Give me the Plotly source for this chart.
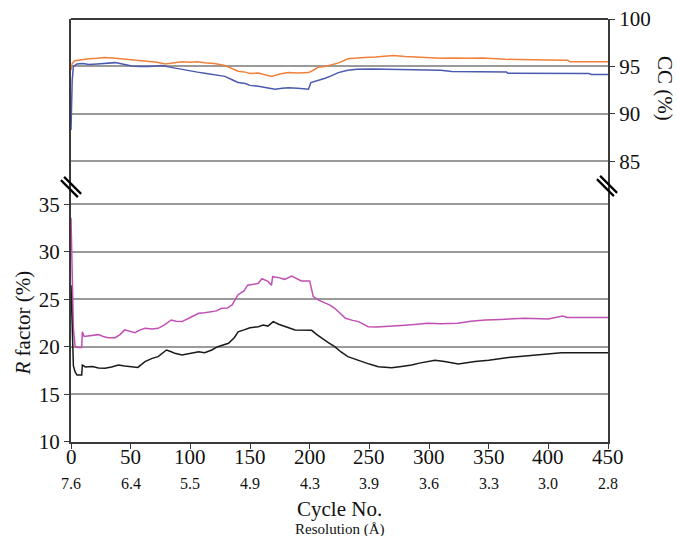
import plotly.graph_objects as go

# ---------------- data ----------------
cycle_ticks = [0, 50, 100, 150, 200, 250, 300, 350, 400, 450]
resolution_labels = ["7.6", "6.4", "5.5", "4.9", "4.3", "3.9", "3.6", "3.3", "3.0", "2.8"]
r_ticks = [10, 15, 20, 25, 30, 35]
cc_ticks = [85, 90, 95, 100]

cc_orange_x = [0, 1, 3, 8, 15, 22, 28, 35, 42, 51, 58, 65, 72, 79, 86, 93, 100, 106, 112, 120,
               129, 135, 140, 146, 150, 157, 163, 168, 175, 182, 190, 199, 203, 207, 213, 218,
               225, 232, 240, 246, 255, 263, 270, 280, 287, 294, 300, 310, 320, 333, 345, 355,
               364, 375, 386, 400, 416, 418, 450]
cc_orange = [94.6, 95.3, 95.6, 95.7, 95.8, 95.85, 95.95, 95.9, 95.8, 95.75, 95.65, 95.55, 95.45,
             95.25, 95.4, 95.5, 95.45, 95.5, 95.4, 95.3, 95.1, 94.8, 94.5, 94.4, 94.25, 94.3,
             94.15, 93.95, 94.2, 94.35, 94.3, 94.35, 94.6, 94.9, 95.0, 95.15, 95.4, 95.8, 95.9,
             95.95, 96.0, 96.1, 96.15, 96.05, 96.0, 95.9, 95.85, 95.85, 95.9, 95.85, 95.9, 95.8,
             95.75, 95.72, 95.68, 95.68, 95.66, 95.5, 95.5]

cc_blue_x = [0, 1, 2, 5, 10, 15, 22, 30, 37, 45, 51, 58, 65, 72, 76, 84, 92, 101, 106, 112, 120,
             129, 135, 140, 146, 150, 157, 163, 171, 177, 182, 190, 199, 201, 207, 213, 218, 224,
             232, 240, 252, 262, 271, 285, 299, 310, 319, 340, 365, 366, 400, 434, 436, 450]
cc_blue = [88.3, 93.5, 95.0, 95.25, 95.3, 95.2, 95.25, 95.35, 95.4, 95.2, 95.05, 95.0, 94.98,
           95.05, 95.1, 94.9, 94.7, 94.45, 94.4, 94.28, 94.15, 93.95, 93.6, 93.3, 93.2, 93.0,
           92.9, 92.75, 92.6, 92.7, 92.75, 92.7, 92.6, 93.3, 93.5, 93.75, 94.0, 94.35, 94.6,
           94.7, 94.74, 94.72, 94.75, 94.7, 94.65, 94.6, 94.46, 94.45, 94.4, 94.28, 94.28,
           94.25, 94.15, 94.15]

r_free_x = [0, 1, 2, 3.4, 5, 9, 9.5, 11, 16, 23, 27, 31, 37, 41, 45, 50, 53.6, 58, 62, 68, 73,
            78, 84, 88, 93, 100, 107, 112, 118, 122, 126, 131, 135, 140, 145, 148, 153, 157,
            160, 165, 168, 169, 174, 179, 185, 190, 193, 200, 203, 208, 213, 217, 221, 226,
            230, 236, 241, 245, 249, 256, 263, 270, 280, 290, 299, 310, 324, 335, 347, 360,
            380, 400, 412, 416, 450]
r_free = [33.6, 27.0, 22.0, 20.1, 19.95, 19.95, 21.6, 21.1, 21.2, 21.3, 21.1, 20.98, 20.98,
          21.3, 21.8, 21.6, 21.5, 21.8, 21.96, 21.9, 21.96, 22.3, 22.84, 22.7, 22.67, 23.1,
          23.54, 23.6, 23.72, 23.8, 24.07, 24.1, 24.42, 25.5, 25.9, 26.5, 26.6, 26.7, 27.2,
          26.9, 26.5, 27.4, 27.3, 27.12, 27.47, 27.1, 26.95, 26.95, 25.3, 24.9, 24.6, 24.4,
          24.07, 23.5, 23.02, 22.8, 22.67, 22.4, 22.14, 22.1, 22.14, 22.2, 22.3, 22.4, 22.49,
          22.45, 22.49, 22.7, 22.84, 22.9, 23.02, 22.95, 23.26, 23.1, 23.1]

r_work_x = [0, 1, 2, 3.4, 5, 9, 9.5, 12, 18, 23, 28.5, 34, 39.7, 45, 51, 56, 62, 68, 73, 80, 84,
            87, 93, 100, 107, 112, 118, 123, 128, 132, 137, 140, 145, 150, 157, 161, 165,
            169.5, 174, 179, 183, 187.7, 195, 201.7, 206, 210, 215, 221, 226, 232, 238, 243.6,
            250, 257.5, 263, 268.7, 277, 285.5, 292, 299, 305, 313, 324.6, 338.6, 350, 366.5,
            388.8, 408, 411, 450]
r_work = [26.5, 21.0, 18.0, 17.4, 17.05, 17.05, 18.1, 17.9, 17.95, 17.8, 17.76, 17.9, 18.1,
          18.0, 17.93, 17.85, 18.46, 18.8, 18.98, 19.68, 19.5, 19.33, 19.16, 19.3, 19.5, 19.4,
          19.68, 20.03, 20.2, 20.39, 21.0, 21.6, 21.8, 22.03, 22.14, 22.3, 22.2, 22.67, 22.4,
          22.14, 22.0, 21.8, 21.8, 21.75, 21.3, 20.9, 20.5, 20.03, 19.5, 18.98, 18.7, 18.46,
          18.2, 17.93, 17.85, 17.82, 17.95, 18.1, 18.3, 18.46, 18.6, 18.46, 18.2, 18.46, 18.6,
          18.9, 19.16, 19.33, 19.4, 19.4]

# ---------------- figure ----------------
SERIF = "Liberation Serif, Times New Roman, serif"
AXIS_COLOR = "#3a3a3a"
GRID_COLOR = "#9a9a9a"
BREAK = 0.6076
PW, PH = 537.0, 423.0   # plot-area size in px

fig = go.Figure()
fig.add_trace(go.Scatter(x=cc_orange_x, y=cc_orange, yaxis="y2", mode="lines",
                         line=dict(color="#f0803a", width=1.5), name="CC 1"))
fig.add_trace(go.Scatter(x=cc_blue_x, y=cc_blue, yaxis="y2", mode="lines",
                         line=dict(color="#4a5aae", width=1.5), name="CC 2"))
fig.add_trace(go.Scatter(x=r_free_x, y=r_free, yaxis="y", mode="lines",
                         line=dict(color="#c24fb4", width=1.5), name="Rfree"))
fig.add_trace(go.Scatter(x=r_work_x, y=r_work, yaxis="y", mode="lines",
                         line=dict(color="#1a1a1a", width=1.5), name="Rwork"))

fig.update_layout(
    width=677, height=536,
    margin=dict(l=71, r=69, t=19, b=94, autoexpand=False),
    paper_bgcolor="white", plot_bgcolor="white",
    showlegend=False,
    font=dict(family=SERIF, color="#111111"),
    xaxis=dict(range=[0, 450], tickvals=cycle_ticks, ticks="outside", ticklen=5,
               tickcolor=AXIS_COLOR, showline=True, linecolor=AXIS_COLOR, linewidth=2,
               showgrid=False, zeroline=False, showticklabels=False, anchor="y"),
    yaxis=dict(domain=[0, BREAK], range=[10, 37.05], tickvals=r_ticks, ticks="outside",
               ticklen=5, tickcolor=AXIS_COLOR, showline=True, mirror=True,
               linecolor=AXIS_COLOR, linewidth=2, showgrid=True, gridcolor=GRID_COLOR,
               gridwidth=1.5, zeroline=False, tickfont=dict(size=21, family=SERIF),
               anchor="x", automargin=False),
    yaxis2=dict(domain=[BREAK, 1], range=[82.5, 100], tickvals=cc_ticks, ticks="outside",
                ticklen=5, tickcolor=AXIS_COLOR, side="right", showline=True, mirror=True,
                linecolor=AXIS_COLOR, linewidth=2, showgrid=True, gridcolor=GRID_COLOR,
                gridwidth=1.5, zeroline=False, tickfont=dict(size=21, family=SERIF),
                anchor="x", automargin=False),
)

# top border
fig.add_shape(type="line", xref="paper", yref="paper", x0=0, x1=1, y0=1, y1=1,
              line=dict(color=AXIS_COLOR, width=2))

# axis-break marks
def add_break(cx, cy):
    for off in (-1.6, 1.6):
        x0 = cx - 8.5 + off
        x1 = cx + 8.5 + off
        y0 = cy - 8.5 - off
        y1 = cy + 8.5 - off
        fig.add_shape(type="line", xref="paper", yref="paper",
                      x0=(x0 - 71) / PW, x1=(x1 - 71) / PW,
                      y0=(442 - y0) / PH, y1=(442 - y1) / PH,
                      line=dict(color="black", width=2.2))
add_break(71, 187)
add_break(607, 186)

# x tick labels (cycle) and resolution row
for cx, lab in zip(cycle_ticks, resolution_labels):
    fig.add_annotation(x=cx, xref="x", y=(442 - 457) / PH, yref="paper", text=str(cx),
                       showarrow=False, font=dict(size=21, family=SERIF),
                       xanchor="center", yanchor="middle")
    fig.add_annotation(x=cx, xref="x", y=(442 - 483) / PH, yref="paper", text=lab,
                       showarrow=False, font=dict(size=16, family=SERIF),
                       xanchor="center", yanchor="middle")

fig.add_annotation(x=0.5, xref="paper", y=(442 - 509) / PH, yref="paper", text="Cycle No.",
                   showarrow=False, font=dict(size=21, family=SERIF),
                   xanchor="center", yanchor="middle")
fig.add_annotation(x=0.5, xref="paper", y=(442 - 529) / PH, yref="paper", text="Resolution (Å)",
                   showarrow=False, font=dict(size=15, family=SERIF),
                   xanchor="center", yanchor="middle")
fig.add_annotation(x=(22.5 - 71) / PW, xref="paper", y=(442 - 323) / PH, yref="paper",
                   text="<i>R</i> factor (%)", textangle=-90, showarrow=False,
                   font=dict(size=21, family=SERIF), xanchor="center", yanchor="middle")
fig.add_annotation(x=(665 - 71) / PW, xref="paper", y=(442 - 88) / PH, yref="paper",
                   text="CC (%)", textangle=90, showarrow=False,
                   font=dict(size=21, family=SERIF), xanchor="center", yanchor="middle")

fig.write_html("out.html", config={"displayModeBar": False},
               post_script="document.body.style.margin='0';document.body.style.padding='0';")
